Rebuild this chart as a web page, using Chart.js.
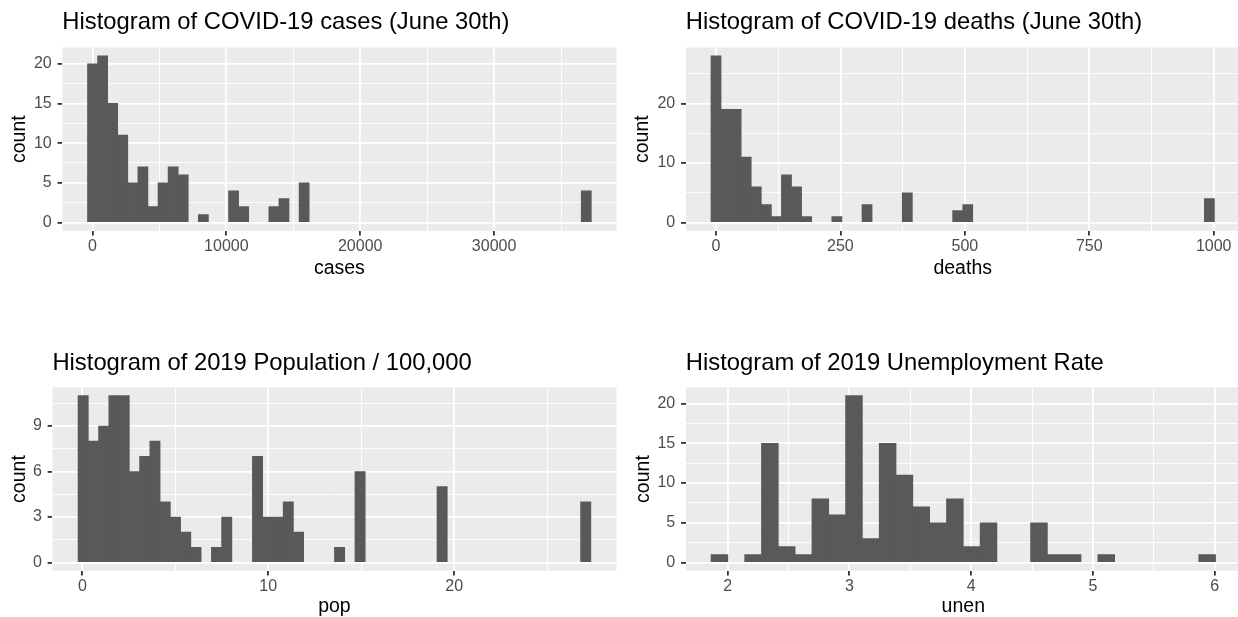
<!DOCTYPE html>
<html>
<head>
<meta charset="utf-8">
<script src="https://cdn.jsdelivr.net/npm/chart.js@4.4.0/dist/chart.umd.min.js"></script>
<style>
  html, body { margin: 0; padding: 0; background: #ffffff; overflow: hidden; }
  #wrap { position: relative; width: 1238px; height: 617px; overflow: hidden; background: #ffffff; }
  #wrap canvas { position: absolute; }
</style>
</head>
<body>
<div id="wrap">
  <canvas id="cCases"></canvas>
  <canvas id="cDeaths"></canvas>
  <canvas id="cPop"></canvas>
  <canvas id="cUnen"></canvas>
</div>
<script>
// ---------------- DATA ----------------
// Histogram counts per bin (50 bins, 50 bins, 50 bins, 30 bins)
const casesCounts  = [20,21,15,11,5,7,2,5,7,6, 0,1,0,0,4,2,0,0,2,3, 0,5,0,0,0,0,0,0,0,0, 0,0,0,0,0,0,0,0,0,0, 0,0,0,0,0,0,0,0,0,4];
const deathsCounts = [28,19,19,11,6,3,1,8,6,1, 0,0,1,0,0,3,0,0,0,5, 0,0,0,0,2,3,0,0,0,0, 0,0,0,0,0,0,0,0,0,0, 0,0,0,0,0,0,0,0,0,4];
const popCounts    = [11,8,9,11,11,6,7,8,4,3, 2,1,0,1,3,0,0,7,3,3, 4,2,0,0,0,1,0,6,0,0, 0,0,0,0,0,5,0,0,0,0, 0,0,0,0,0,0,0,0,0,4];
const unenCounts   = [1,0,1,15,2,1,8,6,21,3, 15,11,7,5,8,2,5,0,0,5, 1,1,0,1,0,0,0,0,0,1];

// Span of the bins on the variable axis (left edge of first bin, right edge of last bin)
const casesBinSpan  = [-370, 37260];
const deathsBinSpan = [-10.1, 1001.5];
const popBinSpan    = [-0.231, 27.35];
const unenBinSpan   = [1.864, 6.0066];

// Titles and axis labels
const titles = ["Histogram of COVID-19 cases (June 30th)", "Histogram of COVID-19 deaths (June 30th)",
                "Histogram of 2019 Population / 100,000", "Histogram of 2019 Unemployment Rate"];
const xLabels = ["cases", "deaths", "pop", "unen"];
const yLabel = "count";

// Tick values (major = labelled, minor = grid only)
const casesTicks       = [0, 10000, 20000, 30000];
const casesMinorTicks  = [5000, 15000, 25000, 35000];
const deathsTicks      = [0, 250, 500, 750, 1000];
const deathsMinorTicks = [125, 375, 625, 875];
const popTicks         = [0, 10, 20];
const popMinorTicks    = [5, 15, 25];
const unenTicks        = [2, 3, 4, 5, 6];
const unenMinorTicks   = [2.5, 3.5, 4.5, 5.5];
const count21Ticks      = [0, 5, 10, 15, 20];
const count21MinorTicks = [2.5, 7.5, 12.5, 17.5];
const count28Ticks      = [0, 10, 20];
const count28MinorTicks = [5, 15, 25];
const count11Ticks      = [0, 3, 6, 9];
const count11MinorTicks = [1.5, 4.5, 7.5, 10.5];

// ---------------- RENDERING ----------------
const FONT = "'Liberation Sans', Arial, Helvetica, sans-serif";
Chart.defaults.font.family = FONT;

const TITLE_SIZE = 23.8, AXIS_TITLE_SIZE = 19.5, TICK_SIZE = 16, LH = 1.2, MID = 0.3465;
const TICK_LEN = 4.75;

const panelBg = {
  id: 'panelBg',
  beforeDraw(chart) {
    const {ctx, chartArea: a} = chart;
    ctx.save();
    ctx.fillStyle = '#EBEBEB';
    ctx.fillRect(a.left, a.top, a.right - a.left, a.bottom - a.top);
    ctx.restore();
  }
};

function binCenters(span, n) {
  const w = (span[1] - span[0]) / n;
  return Array.from({length: n}, (_, i) => span[0] + (i + 0.5) * w);
}
function mergeTicks(major, minor) {
  return [...major, ...minor].sort((a, b) => a - b).map(v => ({value: v}));
}
function gridOpts(major) {
  const isMajor = c => c && c.tick && major.includes(c.tick.value);
  return {
    offset: false,
    color: '#FFFFFF',
    lineWidth: c => isMajor(c) ? 1.8 : 0.9,
    drawOnChartArea: true,
    drawTicks: true,
    tickLength: TICK_LEN,
    tickWidth: 1.8,
    tickColor: c => isMajor(c) ? '#333333' : 'rgba(0,0,0,0)'
  };
}

function makeChart(spec) {
  const cv = document.getElementById(spec.id);
  const [cl, ct, cw, ch] = spec.box;
  cv.width = cw; cv.height = ch;
  cv.style.left = cl + 'px'; cv.style.top = ct + 'px';
  cv.style.width = cw + 'px'; cv.style.height = ch + 'px';
  const [L, T, R, B] = spec.area;

  const titleTop = spec.titleBase - MID * TITLE_SIZE - TITLE_SIZE * LH / 2 - ct;
  const titleBottom = (T - ct) - titleTop - TITLE_SIZE * LH;
  const xTitleBottom = (ct + ch) - (spec.xTitleBase - MID * AXIS_TITLE_SIZE) - AXIS_TITLE_SIZE * LH / 2;
  const yTitleTop = (spec.yTitleX - 1.7) - cl - AXIS_TITLE_SIZE * LH / 2;

  const n = spec.counts.length;
  const xs = binCenters(spec.span, n);
  const range = spec.span[1] - spec.span[0];
  const ymax = Math.max(...spec.counts);

  return new Chart(cv, {
    type: 'bar',
    data: {
      datasets: [{
        data: spec.counts.map((c, i) => ({x: xs[i], y: c === 0 ? null : c})),
        backgroundColor: '#595959',
        borderWidth: 0,
        barPercentage: 1,
        categoryPercentage: 1
      }]
    },
    options: {
      responsive: false,
      animation: false,
      devicePixelRatio: 1,
      layout: { padding: { left: 0, top: 0, bottom: 0, right: (cl + cw) - R } },
      plugins: {
        legend: { display: false },
        tooltip: { enabled: false },
        title: {
          display: true, text: spec.title, align: 'start', fullSize: false,
          color: '#000000',
          font: { size: TITLE_SIZE, weight: 'normal', lineHeight: LH },
          padding: { top: titleTop, bottom: titleBottom }
        }
      },
      scales: {
        x: {
          type: 'linear',
          min: spec.span[0] - 0.05 * range,
          max: spec.span[1] + 0.05 * range,
          offset: false,
          afterBuildTicks: s => { s.ticks = mergeTicks(spec.xMajor, spec.xMinor); },
          afterFit: s => { s.height = (ct + ch) - B; },
          ticks: {
            autoSkip: false, maxRotation: 0, minRotation: 0,
            padding: 15.7 - TICK_LEN - TICK_SIZE * LH / 2,
            color: '#4D4D4D',
            font: { size: TICK_SIZE, lineHeight: LH },
            callback: v => spec.xMajor.includes(v) ? String(v) : ''
          },
          grid: gridOpts(spec.xMajor),
          border: { display: false },
          title: {
            display: true, text: spec.xLabel, color: '#000000',
            font: { size: AXIS_TITLE_SIZE, lineHeight: LH },
            padding: { top: 0, bottom: xTitleBottom }
          }
        },
        y: {
          type: 'linear',
          min: -0.05 * ymax,
          max: 1.05 * ymax,
          afterBuildTicks: s => { s.ticks = mergeTicks(spec.yMajor, spec.yMinor); },
          afterFit: s => { s.width = L - cl; },
          ticks: {
            autoSkip: false,
            padding: 5.8,
            color: '#4D4D4D',
            font: { size: TICK_SIZE, lineHeight: LH },
            callback: v => spec.yMajor.includes(v) ? String(v) : ''
          },
          grid: gridOpts(spec.yMajor),
          border: { display: false },
          title: {
            display: true, text: yLabel, color: '#000000',
            font: { size: AXIS_TITLE_SIZE, lineHeight: LH },
            padding: { top: yTitleTop, bottom: 0 }
          }
        }
      }
    },
    plugins: [panelBg]
  });
}

makeChart({ id: 'cCases', box: [0, 0, 620, 308], area: [62.3, 47.5, 616.5, 230.8],
  titleBase: 31, xTitleBase: 275.5, yTitleX: 21,
  title: titles[0], xLabel: xLabels[0], counts: casesCounts, span: casesBinSpan,
  xMajor: casesTicks, xMinor: casesMinorTicks, yMajor: count21Ticks, yMinor: count21MinorTicks });

makeChart({ id: 'cDeaths', box: [620, 0, 622, 308], area: [685.8, 47.5, 1239.6, 230.8],
  titleBase: 31, xTitleBase: 275.5, yTitleX: 644.2,
  title: titles[1], xLabel: xLabels[1], counts: deathsCounts, span: deathsBinSpan,
  xMajor: deathsTicks, xMinor: deathsMinorTicks, yMajor: count28Ticks, yMinor: count28MinorTicks });

makeChart({ id: 'cPop', box: [0, 308, 620, 309], area: [52.4, 387.3, 616.5, 570.8],
  titleBase: 371.3, xTitleBase: 613.3, yTitleX: 21.1,
  title: titles[2], xLabel: xLabels[2], counts: popCounts, span: popBinSpan,
  xMajor: popTicks, xMinor: popMinorTicks, yMajor: count11Ticks, yMinor: count11MinorTicks });

makeChart({ id: 'cUnen', box: [620, 308, 622, 309], area: [685.8, 387.3, 1240.8, 570.8],
  titleBase: 371.3, xTitleBase: 613.3, yTitleX: 645,
  title: titles[3], xLabel: xLabels[3], counts: unenCounts, span: unenBinSpan,
  xMajor: unenTicks, xMinor: unenMinorTicks, yMajor: count21Ticks, yMinor: count21MinorTicks });
</script>
</body>
</html>
